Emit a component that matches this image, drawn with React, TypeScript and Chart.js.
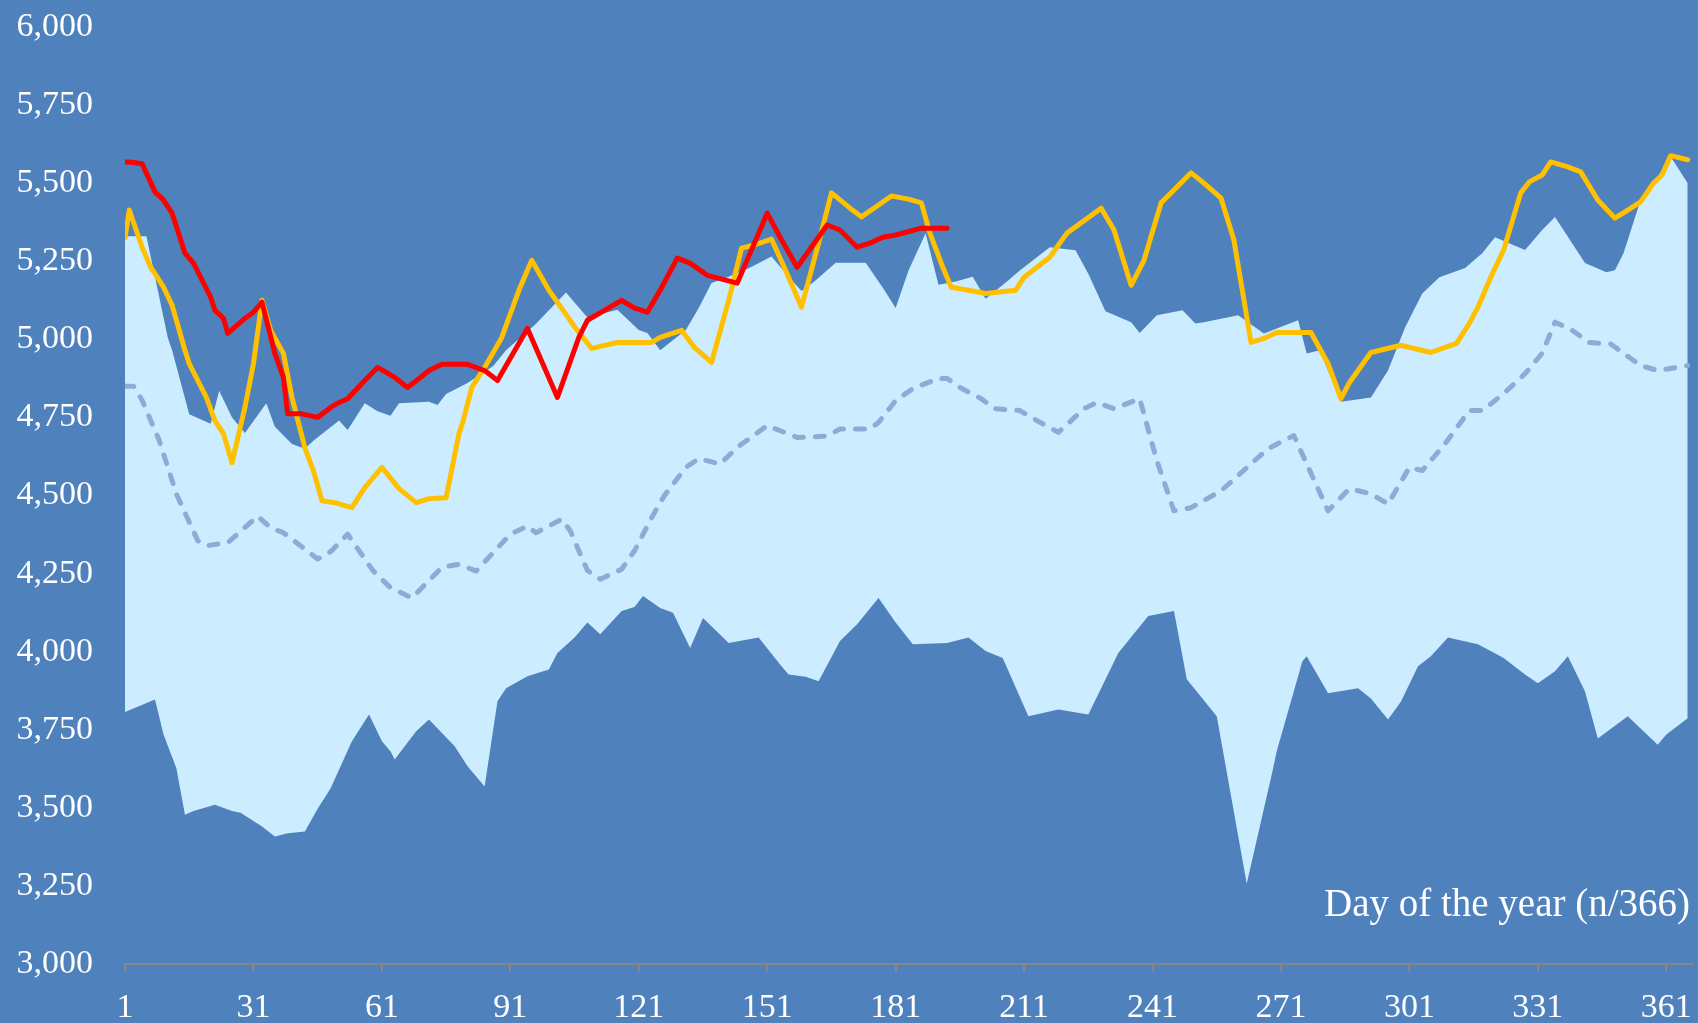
import React, { useEffect, useRef } from "react";
import { Chart, registerables } from "chart.js";

Chart.register(...registerables);

// ---- axis definitions ----
const X_MIN = 1;
const X_MAX = 367;
const X_TICKS = [1, 31, 61, 91, 121, 151, 181, 211, 241, 271, 301, 331, 361];
const Y_TICKS = [3000, 3250, 3500, 3750, 4000, 4250, 4500, 4750, 5000, 5250, 5500, 5750, 6000];
const Y_TICK_LABELS = ["3,000", "3,250", "3,500", "3,750", "4,000", "4,250", "4,500", "4,750", "5,000", "5,250", "5,500", "5,750", "6,000"];
const X_TITLE = "Day of the year (n/366)";

// ---- historical maximum (top of the light band) ----
const MAX_DAYS = [1, 6, 11, 12, 16, 21, 23, 26, 29, 34, 36, 40, 43, 45, 51, 53, 57, 60, 63, 65, 72, 74, 76, 81, 87, 90, 97, 104, 109, 116, 121, 123, 126, 132, 135, 138, 142, 147, 152, 156, 159, 162, 167, 174, 178, 181, 184, 188, 191, 195, 199, 202, 207, 210, 217, 223, 226, 230, 236, 238, 242, 248, 251, 253, 261, 267, 275, 277, 280, 285, 292, 296, 300, 304, 308, 314, 318, 321, 328, 332, 335, 339, 342, 347, 349, 351, 355, 358, 362, 366];
const MAX_VALUES = [5330, 5330, 5005, 4965, 4760, 4730, 4835, 4750, 4700, 4795, 4720, 4665, 4650, 4675, 4740, 4710, 4795, 4770, 4755, 4795, 4800, 4790, 4825, 4860, 4915, 4965, 5050, 5150, 5070, 5095, 5030, 5020, 4965, 5030, 5100, 5180, 5200, 5230, 5265, 5200, 5155, 5185, 5245, 5245, 5165, 5100, 5220, 5340, 5175, 5185, 5200, 5130, 5185, 5220, 5295, 5285, 5210, 5090, 5055, 5020, 5077, 5093, 5051, 5055, 5077, 5019, 5061, 4955, 4965, 4800, 4814, 4900, 5039, 5147, 5199, 5228, 5276, 5327, 5286, 5350, 5392, 5308, 5244, 5215, 5221, 5276, 5446, 5500, 5585, 5500];

// ---- historical minimum (bottom of the light band) ----
const MIN_DAYS = [1, 8, 10, 13, 15, 17, 22, 26, 28, 33, 36, 39, 43, 46, 49, 54, 55, 58, 61, 63, 64, 69, 72, 78, 81, 85, 88, 90, 95, 100, 102, 106, 109, 112, 117, 120, 122, 126, 129, 133, 136, 142, 149, 154, 156, 160, 163, 168, 172, 177, 181, 185, 193, 198, 202, 206, 212, 219, 226, 229, 233, 240, 246, 249, 256, 263, 269, 270, 276, 277, 282, 289, 292, 296, 299, 303, 306, 310, 317, 323, 328, 331, 335, 338, 342, 345, 352, 355, 359, 361, 366];
const MIN_VALUES = [3807, 3847, 3735, 3627, 3478, 3490, 3510, 3490, 3484, 3440, 3408, 3419, 3424, 3497, 3562, 3713, 3735, 3799, 3713, 3681, 3655, 3745, 3783, 3697, 3633, 3568, 3841, 3883, 3921, 3943, 3996, 4045, 4093, 4056, 4130, 4143, 4178, 4140, 4125, 4012, 4108, 4028, 4045, 3959, 3927, 3920, 3905, 4034, 4088, 4172, 4093, 4024, 4028, 4045, 4002, 3980, 3793, 3815, 3799, 3883, 3996, 4114, 4130, 3912, 3793, 3257, 3616, 3681, 3969, 3985, 3867, 3883, 3850, 3783, 3840, 3953, 3985, 4045, 4024, 3980, 3927, 3899, 3937, 3985, 3873, 3722, 3793, 3754, 3702, 3735, 3787];

// ---- historical average (dashed) ----
const AVG_DAYS = [1, 3, 5, 9, 13, 18, 20, 25, 32, 35, 38, 46, 49, 53, 59, 63, 68, 75, 79, 83, 91, 95, 97, 103, 105, 109, 112, 117, 120, 124, 127, 132, 135, 140, 144, 151, 158, 165, 168, 175, 177, 181, 185, 191, 193, 196, 201, 204, 210, 214, 219, 225, 228, 232, 238, 242, 246, 250, 257, 268, 274, 282, 287, 292, 296, 301, 304, 309, 315, 318, 323, 328, 332, 335, 339, 343, 348, 355, 359, 366];
const AVG_VALUES = [4850, 4850, 4805, 4676, 4505, 4355, 4339, 4349, 4434, 4397, 4381, 4297, 4320, 4376, 4258, 4205, 4172, 4270, 4280, 4258, 4376, 4402, 4381, 4424, 4387, 4260, 4232, 4264, 4323, 4429, 4500, 4590, 4618, 4601, 4654, 4724, 4686, 4690, 4713, 4713, 4734, 4804, 4842, 4875, 4875, 4846, 4810, 4778, 4772, 4740, 4702, 4778, 4798, 4778, 4810, 4612, 4451, 4461, 4515, 4650, 4692, 4451, 4522, 4505, 4473, 4590, 4580, 4660, 4772, 4772, 4826, 4890, 4955, 5055, 5029, 4990, 4985, 4916, 4900, 4916];

// ---- current year (red) ----
const CURRENT_DAYS = [1, 2, 5, 8, 10, 12, 15, 17, 21, 22, 24, 25, 29, 31, 33, 36, 38, 39, 42, 46, 49, 51, 53, 57, 60, 64, 67, 70, 72, 75, 81, 85, 88, 95, 102, 107, 109, 117, 120, 123, 126, 130, 133, 137, 144, 151, 154, 158, 165, 168, 172, 175, 178, 181, 187, 193];
const CURRENT_VALUES = [5568, 5568, 5562, 5472, 5446, 5404, 5276, 5244, 5135, 5093, 5067, 5019, 5067, 5087, 5119, 4955, 4878, 4762, 4762, 4750, 4782, 4798, 4810, 4868, 4910, 4878, 4846, 4878, 4900, 4920, 4920, 4900, 4868, 5035, 4814, 5006, 5061, 5125, 5100, 5087, 5157, 5260, 5244, 5205, 5180, 5404, 5327, 5231, 5366, 5350, 5295, 5308, 5327, 5334, 5356, 5356];

// ---- previous year (amber) ----
const PREVIOUS_DAYS = [1, 2, 5, 7, 10, 12, 15, 16, 20, 22, 24, 26, 29, 31, 33, 35, 38, 40, 43, 45, 47, 50, 54, 57, 61, 65, 69, 72, 76, 79, 80, 82, 85, 89, 93, 96, 100, 104, 106, 110, 116, 124, 126, 131, 134, 138, 142, 145, 148, 152, 156, 159, 163, 166, 170, 173, 177, 180, 184, 187, 189, 192, 194, 198, 202, 209, 211, 217, 221, 229, 232, 236, 239, 243, 246, 250, 253, 257, 260, 264, 267, 270, 278, 282, 285, 287, 292, 299, 306, 312, 315, 317, 320, 323, 327, 329, 332, 334, 338, 341, 345, 349, 352, 355, 358, 360, 362, 366];
const PREVIOUS_VALUES = [5324, 5414, 5295, 5231, 5167, 5109, 4965, 4922, 4814, 4740, 4698, 4605, 4782, 4922, 5125, 5029, 4955, 4814, 4653, 4580, 4483, 4477, 4461, 4525, 4590, 4522, 4477, 4490, 4493, 4698, 4740, 4846, 4910, 5006, 5157, 5253, 5157, 5080, 5040, 4971, 4990, 4990, 5006, 5029, 4974, 4926, 5125, 5292, 5302, 5321, 5199, 5103, 5308, 5469, 5424, 5392, 5430, 5459, 5449, 5437, 5340, 5231, 5167, 5157, 5147, 5157, 5199, 5263, 5340, 5420, 5350, 5173, 5253, 5437, 5478, 5533, 5500, 5452, 5318, 4990, 5003, 5022, 5022, 4922, 4810, 4862, 4958, 4981, 4958, 4987, 5051, 5103, 5199, 5286, 5469, 5504, 5526, 5568, 5552, 5536, 5446, 5388, 5414, 5440, 5500, 5526, 5588, 5575];

const toPoints = (days: number[], values: number[]) =>
  days.map((d, i) => ({ x: d, y: values[i] }));

const BG = "#4F81BD";
const FONT = "'Liberation Serif', 'Times New Roman', serif";

const titlePlugin = {
  id: "axisTitleInside",
  afterDraw(chart: any) {
    const ctx = chart.ctx;
    ctx.save();
    ctx.font = `39px ${FONT}`;
    ctx.fillStyle = "#FFFFFF";
    ctx.textAlign = "right";
    ctx.textBaseline = "alphabetic";
    ctx.fillText(X_TITLE, 1690, 916);
    ctx.restore();
  },
};

export default function App() {
  const canvasRef = useRef<HTMLCanvasElement>(null);

  useEffect(() => {
    document.body.style.margin = "0";
    const canvas = canvasRef.current;
    if (!canvas) return;
    const chart = new Chart(canvas, {
      type: "line",
      data: {
        datasets: [
          {
            label: "Current year",
            data: toPoints(CURRENT_DAYS, CURRENT_VALUES),
            borderColor: "#FF0000",
            borderWidth: 5,
            pointRadius: 0,
            fill: false,
            tension: 0,
            borderJoinStyle: "round",
            borderCapStyle: "round",
          },
          {
            label: "Previous year",
            data: toPoints(PREVIOUS_DAYS, PREVIOUS_VALUES),
            borderColor: "#FFC000",
            borderWidth: 5,
            pointRadius: 0,
            fill: false,
            tension: 0,
            borderJoinStyle: "round",
            borderCapStyle: "round",
          },
          {
            label: "Average",
            data: toPoints(AVG_DAYS, AVG_VALUES),
            borderColor: "#8FAAD6",
            borderWidth: 5,
            borderDash: [9, 12],
            borderCapStyle: "round",
            borderJoinStyle: "round",
            pointRadius: 0,
            fill: false,
            tension: 0,
          },
          {
            label: "Maximum",
            data: toPoints(MAX_DAYS, MAX_VALUES),
            borderColor: "rgba(0,0,0,0)",
            borderWidth: 0,
            backgroundColor: "#CCECFF",
            pointRadius: 0,
            fill: "+1",
            tension: 0,
          },
          {
            label: "Minimum",
            data: toPoints(MIN_DAYS, MIN_VALUES),
            borderColor: "rgba(0,0,0,0)",
            borderWidth: 0,
            pointRadius: 0,
            fill: false,
            tension: 0,
          },
        ],
      },
      options: {
        responsive: false,
        animation: false,
        events: [],
        layout: { padding: { top: 27, right: 6, left: 0, bottom: 0 } },
        plugins: {
          legend: { display: false },
          tooltip: { enabled: false },
          title: { display: false },
        },
        scales: {
          x: {
            type: "linear",
            min: X_MIN,
            max: X_MAX,
            afterBuildTicks: (scale: any) => {
              scale.ticks = X_TICKS.map((v) => ({ value: v }));
            },
            afterFit: (scale: any) => {
              scale.height = 59;
              scale.paddingLeft = 0;
              scale.paddingRight = 0;
            },
            ticks: {
              color: "#FFFFFF",
              font: { family: FONT, size: 34 },
              padding: 16,
              maxRotation: 0,
              autoSkip: false,
              callback: (v: any) => String(v),
            },
            grid: {
              display: true,
              drawOnChartArea: false,
              drawTicks: true,
              tickLength: 8,
              color: "#878787",
              lineWidth: 2,
            },
            border: { display: true, color: "#878787", width: 2 },
          },
          y: {
            type: "linear",
            min: Y_TICKS[0],
            max: Y_TICKS[Y_TICKS.length - 1],
            afterBuildTicks: (scale: any) => {
              scale.ticks = Y_TICKS.map((v) => ({ value: v }));
            },
            afterFit: (scale: any) => {
              scale.width = 125;
              scale.paddingTop = 0;
              scale.paddingBottom = 0;
            },
            ticks: {
              color: "#FFFFFF",
              font: { family: FONT, size: 34 },
              padding: 32,
              autoSkip: false,
              callback: (v: any) => {
                const i = Y_TICKS.indexOf(Number(v));
                return i >= 0 ? Y_TICK_LABELS[i] : "";
              },
            },
            grid: { display: false, drawTicks: false },
            border: { display: false },
          },
        },
      },
      plugins: [titlePlugin],
    } as any);
    return () => chart.destroy();
  }, []);

  return (
    <div
      style={{
        position: "fixed",
        left: 0,
        top: 0,
        width: 1698,
        height: 1023,
        background: BG,
        overflow: "hidden",
      }}
    >
      <canvas ref={canvasRef} width={1698} height={1023} style={{ display: "block" }} />
    </div>
  );
}
